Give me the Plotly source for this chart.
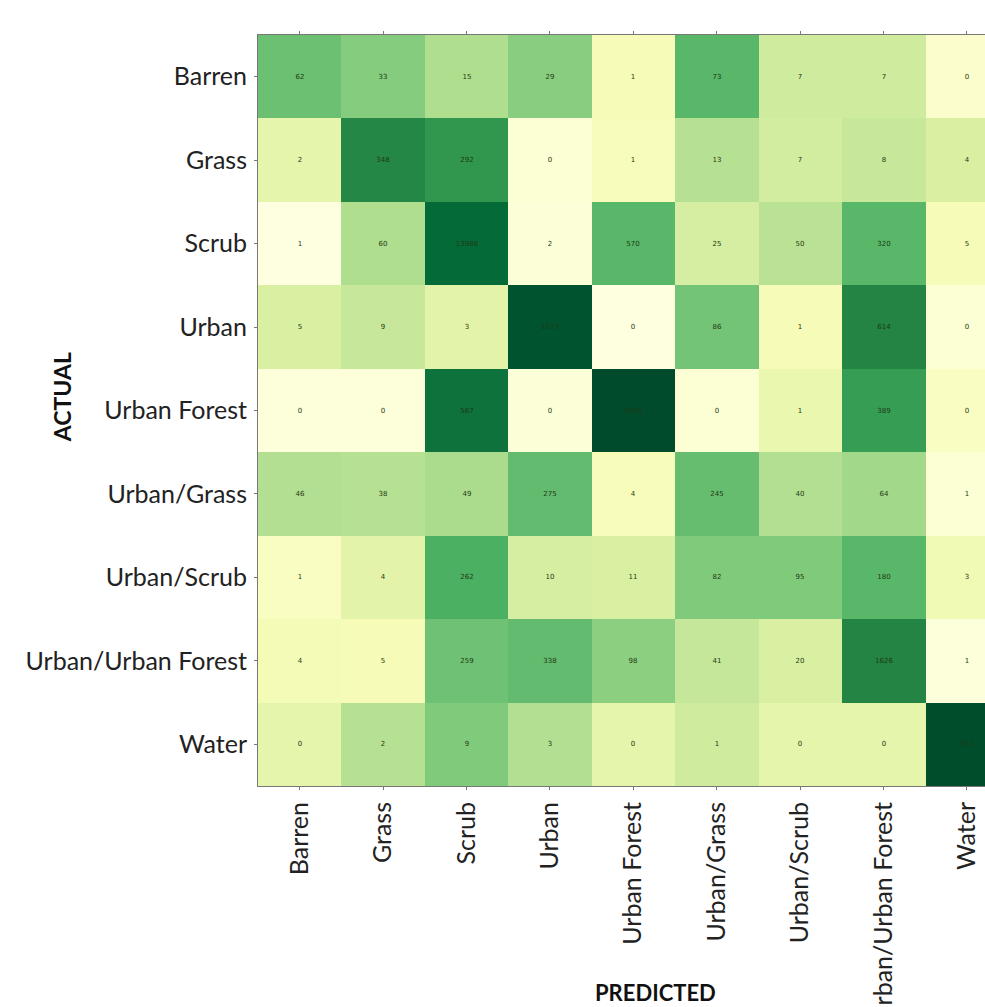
import plotly.graph_objects as go

classes = ["Barren", "Grass", "Scrub", "Urban", "Urban Forest", "Urban/Grass",
           "Urban/Scrub", "Urban/Urban Forest", "Water"]

# counts (rows = actual, columns = predicted)
counts = [
    [62, 33, 15, 29, 1, 73, 7, 7, 0],
    [2, 348, 292, 0, 1, 13, 7, 8, 4],
    [1, 60, 13988, 2, 570, 25, 50, 320, 5],
    [5, 9, 3, 1073, 0, 86, 1, 614, 0],
    [0, 0, 567, 0, 5510, 0, 1, 389, 0],
    [46, 38, 49, 275, 4, 245, 40, 64, 1],
    [1, 4, 262, 10, 11, 82, 95, 180, 3],
    [4, 5, 259, 338, 98, 41, 20, 1626, 1],
    [0, 2, 9, 3, 0, 1, 0, 0, 351],
]

# cell shading (0 = lightest, 1 = darkest)
shade = [
    [0.53, 0.47, 0.37, 0.46, 0.13, 0.57, 0.28, 0.28, 0.07],
    [0.20, 0.74, 0.69, 0.05, 0.12, 0.35, 0.27, 0.30, 0.25],
    [0.01, 0.37, 0.86, 0.04, 0.57, 0.26, 0.34, 0.57, 0.13],
    [0.25, 0.30, 0.21, 0.95, 0.02, 0.51, 0.13, 0.75, 0.05],
    [0.03, 0.03, 0.83, 0.04, 0.98, 0.05, 0.18, 0.67, 0.10],
    [0.36, 0.35, 0.38, 0.55, 0.12, 0.54, 0.36, 0.40, 0.05],
    [0.10, 0.21, 0.60, 0.26, 0.25, 0.48, 0.48, 0.57, 0.15],
    [0.14, 0.13, 0.52, 0.55, 0.45, 0.31, 0.25, 0.75, 0.03],
    [0.20, 0.35, 0.48, 0.36, 0.20, 0.28, 0.20, 0.20, 0.97],
]

ylgn = ["#ffffe5", "#f7fcb9", "#d9f0a3", "#addd8e", "#78c679",
        "#41ab5d", "#238443", "#006837", "#004529"]
colorscale = [[i / (len(ylgn) - 1), c] for i, c in enumerate(ylgn)]

W, H = 985, 1007
L, T = 258, 35
cell = 83.4
plot_h = cell * 9
B = H - T - plot_h
plot_w = W - L
x_end = -0.5 + plot_w / cell

fig = go.Figure(go.Heatmap(
    z=shade,
    x=list(range(len(classes))),
    y=list(range(len(classes))),
    text=counts,
    texttemplate="%{text}",
    textfont=dict(size=7, color="#1f3a14", family="DejaVu Sans"),
    colorscale=colorscale,
    zmin=0, zmax=1,
    showscale=False,
    hoverinfo="skip",
))

axis_common = dict(
    showgrid=False, zeroline=False, automargin=False,
    showline=True, linecolor="#777777", linewidth=1,
    ticks="outside", ticklen=3, tickcolor="#777777",
    tickfont=dict(family="Lato", size=25, color="#222222"),
)

fig.update_layout(
    width=W, height=H,
    margin=dict(l=L, r=0, t=T, b=B, pad=0, autoexpand=False),
    paper_bgcolor="white", plot_bgcolor="white",
    xaxis=dict(
        tickmode="array", tickvals=list(range(len(classes))), ticktext=classes,
        range=[-0.5, x_end], tickangle=-90, ticklabelstandoff=2,
        mirror="ticks",
        **axis_common,
    ),
    yaxis=dict(
        tickmode="array", tickvals=list(range(len(classes))), ticktext=classes,
        range=[8.5, -0.5], ticklabelstandoff=2,
        mirror=False,
        **axis_common,
    ),
    annotations=[
        dict(text="<b>ACTUAL</b>", xref="paper", yref="paper",
             x=(62 - L) / plot_w, y=(T + plot_h - 397) / plot_h,
             xanchor="center", yanchor="middle",
             textangle=-90, showarrow=False,
             font=dict(family="Lato", size=23, color="#111111")),
        dict(text="<b>PREDICTED</b>", xref="paper", yref="paper",
             x=(655 - L) / plot_w, y=(T + plot_h - 992) / plot_h,
             xanchor="center", yanchor="middle",
             showarrow=False,
             font=dict(family="Lato", size=22, color="#111111")),
    ],
)

fig.write_html("out.html")
